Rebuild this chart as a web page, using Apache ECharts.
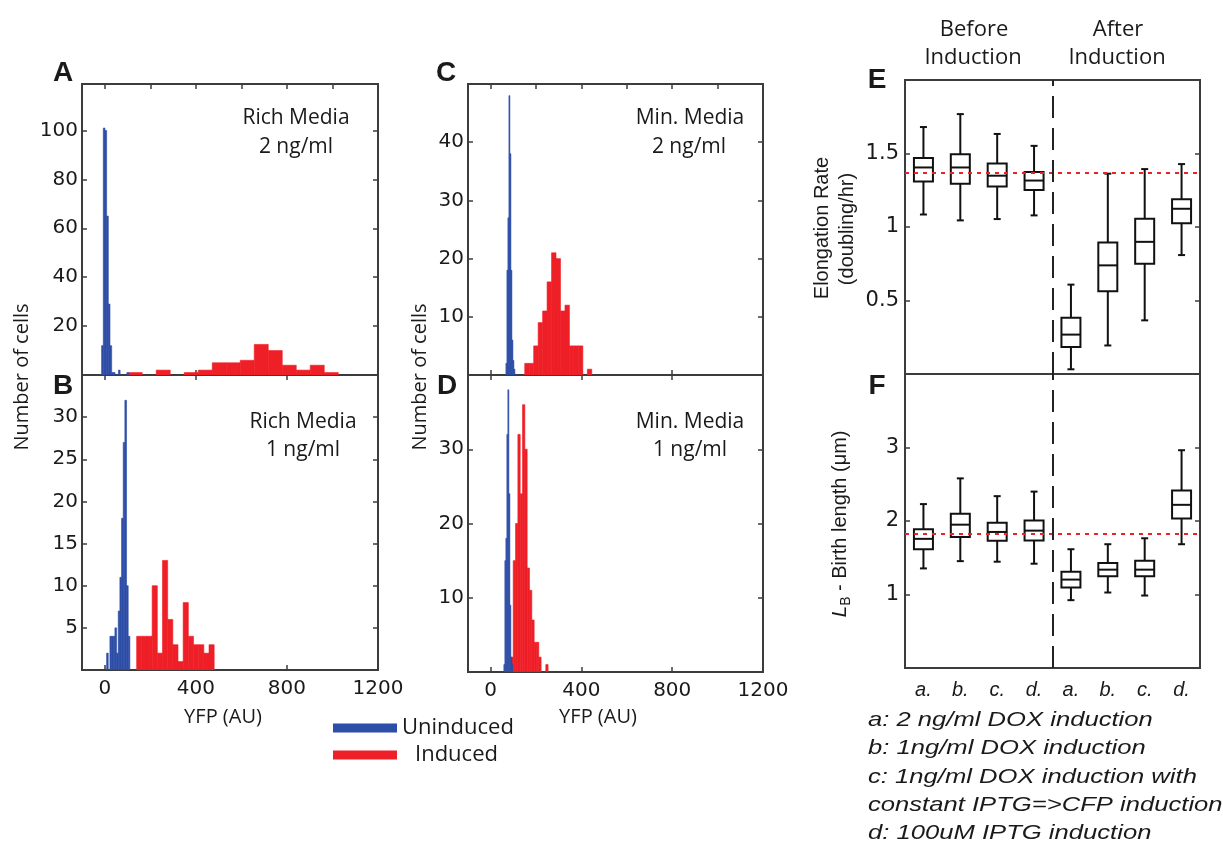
<!DOCTYPE html>
<html>
<head>
<meta charset="utf-8">
<title>YFP histograms and growth box plots</title>
<script src="https://cdn.jsdelivr.net/npm/echarts@6.0.0/dist/echarts.min.js"></script>
<style>
  html, body { margin: 0; padding: 0; background: #fff; }
  #main { width: 1223px; height: 847px; }
</style>
</head>
<body>
<div id="main"></div>
<script>
// histogram bins: first bin edge, bin width, counts
const aBlueStart = -14, aBlueWidth = 7.4;
const aBlueCounts = [12, 101, 100, 65, 29, 12, 1, 1, 0, 0, 2, 0, 0, 0, 0, 1];
const aRedStart = 103, aRedWidth = 61.5;
const aRedCounts = [1, 0, 2, 0, 1, 2, 5, 5, 6, 12.5, 10, 4, 2, 4, 1];

const bBlueStart = 8, bBlueWidth = 7.3;
const bBlueCounts = [2, 0, 4, 4, 4, 5, 2, 7, 11, 18, 27, 32, 10, 4];
const bRedStart = 140, bRedWidth = 22.7;
const bRedCounts = [4, 4, 4, 10, 2, 13, 6, 3, 1, 8, 4, 3, 3, 2, 3];

const cBlueStart = 67, cBlueWidth = 4.4;
const cBlueCounts = [2, 18, 27, 48, 38, 18, 6, 2.5, 1];
const cRedStart = 150, cRedWidth = 19.7;
const cRedCounts = [2, 2, 5, 9, 11, 16, 21, 20, 11, 12, 5, 5, 5, 0, 1];

const dBlueStart = 58, dBlueWidth = 4.4;
const dBlueCounts = [1, 15, 18, 32, 38, 24, 9, 2, 1];
const dRedStart = 89, dRedWidth = 10.25;
const dRedCounts = [2, 15, 20, 32, 24, 36, 30, 14, 11, 7, 4, 4, 2, 0, 0, 1];

// tick values
const yfpLabels = [0, 400, 800, 1200];
const yfpMinor = [0, 200, 400, 600, 800, 1000, 1200];
const aYTicks = [20, 40, 60, 80, 100];
const bYTicks = [5, 10, 15, 20, 25, 30];
const cYTicks = [10, 20, 30, 40];
const dYTicks = [10, 20, 30];

// box plots: whisker low, Q1, median, Q3, whisker high
const boxCats = ['a.', 'b.', 'c.', 'd.', 'a.', 'b.', 'c.', 'd.'];
const afterStart = 4;
const eLow  = [1.085, 1.045, 1.054, 1.079, 0.032, 0.194, 0.365, 0.809];
const eQ1   = [1.310, 1.295, 1.275, 1.252, 0.184, 0.563, 0.750, 1.025];
const eMed  = [1.405, 1.405, 1.349, 1.316, 0.268, 0.739, 0.899, 1.124];
const eQ3   = [1.470, 1.495, 1.432, 1.374, 0.383, 0.894, 1.056, 1.189];
const eHigh = [1.680, 1.768, 1.633, 1.552, 0.608, 1.363, 1.394, 1.428];
const eRef = 1.367;
const fLow  = [1.355, 1.454, 1.446, 1.419, 0.923, 1.027, 0.986, 1.684];
const fQ1   = [1.616, 1.784, 1.730, 1.734, 1.095, 1.247, 1.247, 2.035];
const fMed  = [1.757, 1.950, 1.851, 1.869, 1.203, 1.338, 1.338, 2.220];
const fQ3   = [1.887, 2.100, 1.977, 2.008, 1.310, 1.427, 1.459, 2.414];
const fHigh = [2.230, 2.580, 2.338, 2.400, 1.616, 1.684, 1.765, 2.963];
const fRef = 1.829;
const eYTicks = [0.5, 1, 1.5];
const fYTicks = [1, 2, 3];

const notes = [
  'a: 2 ng/ml DOX induction',
  'b: 1ng/ml DOX induction',
  'c: 1ng/ml DOX induction with',
  'constant IPTG=>CFP induction',
  'd: 100uM IPTG induction'
];

const BLUE = '#2d4ea6', RED = '#ee1f26', INK = '#1a1a1a', FRAME = '#3c3c3c';
const tickText = { fontFamily: 'DejaVu Sans', fontSize: 20, color: INK, formatter: v => String(v) };

function bins(start, width, counts) {
  return counts.map((c, i) => [start + i * width, start + (i + 1) * width, c]).filter(d => d[2] > 0);
}

function histBar(params, api) {
  const top = api.coord([api.value(0), api.value(2)]);
  const base = api.coord([api.value(1), 0]);
  const color = api.visual('color');
  return {
    type: 'rect',
    shape: { x: top[0], y: top[1], width: Math.max(base[0] - top[0], 1), height: base[1] - top[1] },
    style: { fill: color, stroke: color, lineWidth: 0.6 }
  };
}

function boxItem(params, api) {
  const x = api.value(0);
  const lo = api.coord([x, api.value(1)]);
  const q1 = api.coord([x, api.value(2)]);
  const md = api.coord([x, api.value(3)]);
  const q3 = api.coord([x, api.value(4)]);
  const hi = api.coord([x, api.value(5)]);
  const cx = lo[0], hw = 9.5, cw = 3.5;
  const st = { stroke: '#111', lineWidth: 2, fill: null };
  return {
    type: 'group',
    children: [
      { type: 'line', shape: { x1: cx, y1: hi[1], x2: cx, y2: q3[1] }, style: st },
      { type: 'line', shape: { x1: cx, y1: q1[1], x2: cx, y2: lo[1] }, style: st },
      { type: 'line', shape: { x1: cx - cw, y1: hi[1], x2: cx + cw, y2: hi[1] }, style: st },
      { type: 'line', shape: { x1: cx - cw, y1: lo[1], x2: cx + cw, y2: lo[1] }, style: st },
      { type: 'rect', shape: { x: cx - hw, y: q3[1], width: 2 * hw, height: q1[1] - q3[1] }, style: st },
      { type: 'line', shape: { x1: cx - hw, y1: md[1], x2: cx + hw, y2: md[1] }, style: st }
    ]
  };
}

function ticks(values) {
  return { show: true, inside: true, length: 5, customValues: values, lineStyle: { color: FRAME, width: 1.5 } };
}
const noLine = { show: false, onZero: false };

const panels = [
  { box: { left: 82, top: 84, width: 296, height: 291 }, yMax: 119, yTicks: aYTicks, labels: false, topTicks: yfpMinor,
    blue: bins(aBlueStart, aBlueWidth, aBlueCounts), red: bins(aRedStart, aRedWidth, aRedCounts) },
  { box: { left: 82, top: 375, width: 296, height: 295 }, yMax: 35, yTicks: bYTicks, labels: true, topTicks: yfpLabels,
    blue: bins(bBlueStart, bBlueWidth, bBlueCounts), red: bins(bRedStart, bRedWidth, bRedCounts) },
  { box: { left: 468, top: 84, width: 295, height: 291 }, yMax: 50, yTicks: cYTicks, labels: false, topTicks: yfpMinor,
    blue: bins(cBlueStart, cBlueWidth, cBlueCounts), red: bins(cRedStart, cRedWidth, cRedCounts) },
  { box: { left: 468, top: 375, width: 295, height: 297 }, yMax: 40, yTicks: dYTicks, labels: true, topTicks: yfpLabels,
    blue: bins(dBlueStart, dBlueWidth, dBlueCounts), red: bins(dRedStart, dRedWidth, dRedCounts) }
];

const boxPanels = [
  { box: { left: 905, top: 80, width: 295, height: 294 }, yMax: 2, yTicks: eYTicks, labels: false,
    cols: [eLow, eQ1, eMed, eQ3, eHigh], ref: eRef },
  { box: { left: 905, top: 374, width: 295, height: 294 }, yMax: 4, yTicks: fYTicks, labels: true,
    cols: [fLow, fQ1, fMed, fQ3, fHigh], ref: fRef }
];

const grid = [], xAxis = [], yAxis = [], series = [];

panels.forEach(p => {
  const gi = grid.length;
  grid.push(Object.assign({ show: true, borderColor: FRAME, borderWidth: 2, backgroundColor: 'transparent' }, p.box));
  const xi = xAxis.length, yi = yAxis.length;
  xAxis.push({ gridIndex: gi, type: 'value', min: -100, max: 1200, position: 'bottom',
    axisLine: noLine, splitLine: { show: false }, axisTick: ticks(yfpLabels),
    axisLabel: Object.assign({ show: p.labels, customValues: yfpLabels, margin: 9 }, tickText) });
  xAxis.push({ gridIndex: gi, type: 'value', min: -100, max: 1200, position: 'top',
    axisLine: noLine, splitLine: { show: false }, axisTick: ticks(p.topTicks), axisLabel: { show: false } });
  yAxis.push({ gridIndex: gi, type: 'value', min: 0, max: p.yMax, position: 'left',
    axisLine: noLine, splitLine: { show: false }, axisTick: ticks(p.yTicks),
    axisLabel: Object.assign({ customValues: p.yTicks, margin: 4 }, tickText) });
  yAxis.push({ gridIndex: gi, type: 'value', min: 0, max: p.yMax, position: 'right',
    axisLine: noLine, splitLine: { show: false }, axisTick: ticks(p.yTicks), axisLabel: { show: false } });
  series.push({ type: 'custom', name: 'Induced', xAxisIndex: xi, yAxisIndex: yi, renderItem: histBar,
    data: p.red, encode: { x: [0, 1], y: 2 }, itemStyle: { color: RED }, clip: true, silent: true });
  series.push({ type: 'custom', name: 'Uninduced', xAxisIndex: xi, yAxisIndex: yi, renderItem: histBar,
    data: p.blue, encode: { x: [0, 1], y: 2 }, itemStyle: { color: BLUE }, clip: true, silent: true });
});

boxPanels.forEach(p => {
  const gi = grid.length;
  grid.push(Object.assign({ show: true, borderColor: FRAME, borderWidth: 2, backgroundColor: 'transparent' }, p.box));
  const xi = xAxis.length, yi = yAxis.length;
  xAxis.push({ gridIndex: gi, type: 'value', min: 0, max: boxCats.length,
    axisLine: noLine, splitLine: { show: false }, axisTick: { show: false },
    axisLabel: { show: p.labels, customValues: boxCats.map((c, i) => i + 0.5),
      formatter: v => boxCats[Math.floor(v)], margin: 12,
      fontFamily: 'Liberation Sans', fontStyle: 'italic', fontSize: 20, color: INK } });
  yAxis.push({ gridIndex: gi, type: 'value', min: 0, max: p.yMax, position: 'left',
    axisLine: noLine, splitLine: { show: false }, axisTick: ticks(p.yTicks),
    axisLabel: Object.assign({ customValues: p.yTicks, margin: 6 }, tickText, { fontSize: 21 }) });
  yAxis.push({ gridIndex: gi, type: 'value', min: 0, max: p.yMax, position: 'right',
    axisLine: noLine, splitLine: { show: false }, axisTick: ticks(p.yTicks), axisLabel: { show: false } });
  series.push({ type: 'line', xAxisIndex: xi, yAxisIndex: yi, data: [], silent: true,
    markLine: { symbol: ['none', 'none'], silent: true, animation: false, label: { show: false },
      data: [
        { yAxis: p.ref, lineStyle: { color: RED, type: [4, 5], width: 2 } },
        { xAxis: afterStart, lineStyle: { color: '#222', type: [22, 10], width: 2 } }
      ] } });
  series.push({ type: 'custom', xAxisIndex: xi, yAxisIndex: yi, renderItem: boxItem, silent: true, z: 3,
    data: boxCats.map((c, i) => [i + 0.5].concat(p.cols.map(col => col[i]))),
    encode: { x: 0, y: [1, 2, 3, 4, 5] } });
});

function txt(text, x, y, font, opts) {
  opts = opts || {};
  return {
    type: 'text', x: x, y: y, rotation: opts.rotation || 0, scaleX: opts.scaleX || 1,
    silent: true,
    style: { text: text, font: font, fill: INK, rich: opts.rich,
      textAlign: opts.align || 'center', align: opts.align || 'center',
      textVerticalAlign: 'middle', verticalAlign: 'middle' }
  };
}

const LETTER = 'bold 28px "Liberation Sans"';
const MYR = '21px "Open Sans"';
const UP = Math.PI / 2;
const graphic = [
  txt('A', 63, 73, LETTER), txt('B', 63, 386, LETTER), txt('C', 446, 73, LETTER),
  txt('D', 447, 386, LETTER), txt('E', 877, 80, LETTER), txt('F', 877, 386, LETTER),
  txt('Rich Media', 296, 118, MYR), txt('2 ng/ml', 296, 147, MYR),
  txt('Rich Media', 303, 422, MYR), txt('1 ng/ml', 303, 450, MYR),
  txt('Min. Media', 690, 118, MYR), txt('2 ng/ml', 689, 147, MYR),
  txt('Min. Media', 690, 422, MYR), txt('1 ng/ml', 690, 450, MYR),
  txt('Number of cells', 22, 377, '20px "Open Sans"', { rotation: UP }),
  txt('Number of cells', 420, 377, '20px "Open Sans"', { rotation: UP }),
  txt('YFP (AU)', 223, 717, '20px "Open Sans"'),
  txt('YFP (AU)', 598, 717, '20px "Open Sans"'),
  txt('Before', 974, 30, '22px "Open Sans"'), txt('Induction', 973, 58, '22px "Open Sans"'),
  txt('After', 1118, 30, '22px "Open Sans"'), txt('Induction', 1117, 58, '22px "Open Sans"'),
  txt('Elongation Rate', 822, 228, '20px "Liberation Sans"', { rotation: UP }),
  txt('(doubling/hr)', 847, 229, '20px "Liberation Sans"', { rotation: UP }),
  txt('{i|L}{s|B}{n| - Birth length (μm)}', 840, 524, '20px "Liberation Sans"', {
    rotation: UP,
    rich: {
      i: { fontStyle: 'italic', fontSize: 21, fontFamily: 'Liberation Sans', verticalAlign: 'middle', lineHeight: 26 },
      s: { fontSize: 14, fontFamily: 'Liberation Sans', verticalAlign: 'bottom', lineHeight: 26 },
      n: { fontSize: 20, fontFamily: 'Liberation Sans', verticalAlign: 'middle', lineHeight: 26 }
    }
  })
].concat(notes.map((line, i) => txt(line, 868, [720, 748, 777, 805, 833][i],
  'italic 21px "Liberation Sans"', { align: 'left', scaleX: 1.22 })));

const chart = echarts.init(document.getElementById('main'));
chart.setOption({
  animation: false,
  backgroundColor: '#fff',
  legend: {
    data: ['Uninduced', 'Induced'], orient: 'vertical', left: 328, top: 712,
    itemWidth: 64, itemHeight: 9, itemGap: 5, icon: 'rect', selectedMode: false,
    formatter: name => (name === 'Induced' ? '{gap|}' : '') + name,
    textStyle: { fontFamily: 'Open Sans', fontSize: 22, color: INK, rich: { gap: { width: 13 } } }
  },
  grid: grid,
  xAxis: xAxis,
  yAxis: yAxis,
  series: series,
  graphic: graphic
});
</script>
</body>
</html>
